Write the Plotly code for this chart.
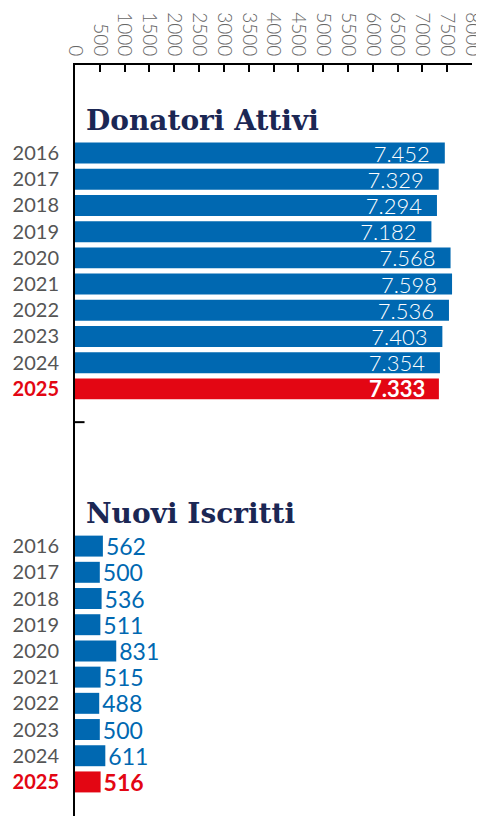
import plotly.graph_objects as go

years = ["2016", "2017", "2018", "2019", "2020", "2021", "2022", "2023", "2024", "2025"]
donatori = [7452, 7329, 7294, 7182, 7568, 7598, 7536, 7403, 7354, 7333]
nuovi = [562, 500, 536, 511, 831, 515, 488, 500, 611, 516]
titles = ["Donatori Attivi", "Nuovi Iscritti"]
x_ticks = list(range(0, 8001, 500))
highlight = "2025"

BLUE = "#0068b1"
RED = "#e30613"
NAVY = "#1b2754"
GRAY = "#555555"
FONT = "Lato"

n = len(years)
offset = n + 5
pos_d = list(range(n))
pos_n = [i + offset for i in range(n)]

def split(vals, pos):
    nb = [(v, p) for v, p, y in zip(vals, pos, years) if y != highlight]
    hb = [(v, p) for v, p, y in zip(vals, pos, years) if y == highlight]
    return nb, hb

fig = go.Figure()
NB = "\u00a0"

d_n, d_h = split(donatori, pos_d)
n_n, n_h = split(nuovi, pos_n)

common = dict(orientation="h", width=0.8, constraintext="none", textangle=0, cliponaxis=False)

fig.add_trace(go.Bar(
    x=[v for v, _ in d_n], y=[p for _, p in d_n],
    marker=dict(color=BLUE, line_width=0),
    texttemplate="%{x:,}" + NB * 2, textposition="inside", insidetextanchor="end",
    textfont=dict(color="white", size=22, family=FONT, weight=300), **common,
))
fig.add_trace(go.Bar(
    x=[v for v, _ in d_h], y=[p for _, p in d_h],
    marker=dict(color=RED, line_width=0),
    texttemplate="%{x:,}" + NB * 2, textposition="inside", insidetextanchor="end",
    textfont=dict(color="white", size=22, family=FONT, weight=700), **common,
))
fig.add_trace(go.Bar(
    x=[v for v, _ in n_n], y=[p for _, p in n_n],
    marker=dict(color=BLUE, line_width=0),
    texttemplate="%{x}", textposition="outside",
    textfont=dict(color=BLUE, size=23, family=FONT, weight=400), **common,
))
fig.add_trace(go.Bar(
    x=[v for v, _ in n_h], y=[p for _, p in n_h],
    marker=dict(color=RED, line_width=0),
    texttemplate="%{x}", textposition="outside",
    textfont=dict(color=RED, size=23, family=FONT, weight=700), **common,
))

tickvals = pos_d + pos_n
ticktext = []
for y in years + years:
    if y == highlight:
        ticktext.append(f"<b><span style='color:{RED}'>{y}</span></b>")
    else:
        ticktext.append(y)

fig.update_layout(
    width=476, height=808,
    margin=dict(l=67, r=12, t=57, b=0, autoexpand=False),
    paper_bgcolor="white", plot_bgcolor="white",
    showlegend=False, barmode="overlay",
    separators=",.",
    xaxis=dict(
        side="top", range=[0, 8000], tickvals=x_ticks, ticktext=[str(t) for t in x_ticks],
        tickangle=90, ticks="inside", ticklen=7, tickcolor="black", tickwidth=1.5,
        showline=True, linecolor="black", linewidth=2, showgrid=False, zeroline=False,
        automargin=False, ticklabeloverflow="allow",
        tickfont=dict(family=FONT, size=19, color="#666666", weight=300),
    ),
    yaxis=dict(
        range=[25.3, -3.36], tickvals=tickvals, ticktext=ticktext,
        showline=True, linecolor="black", linewidth=2, showgrid=False, zeroline=False,
        ticks="", ticklabelstandoff=10, automargin=False,
        tickfont=dict(family=FONT, size=20, color=GRAY, weight=400),
    ),
    font=dict(family=FONT),
)

fig.add_shape(type="line", xref="paper", yref="y", x0=0, x1=0.024, y0=10.27, y1=10.27,
              line=dict(color="black", width=2))

for title, p in zip(titles, [-1.26, offset - 1.26]):
    fig.add_annotation(text=f"<b>{title}</b>", xref="x", yref="y", x=180, y=p,
                       xanchor="left", yanchor="middle", showarrow=False,
                       font=dict(family="DejaVu Serif", size=28, color=NAVY))

fig.write_html("out.html")
